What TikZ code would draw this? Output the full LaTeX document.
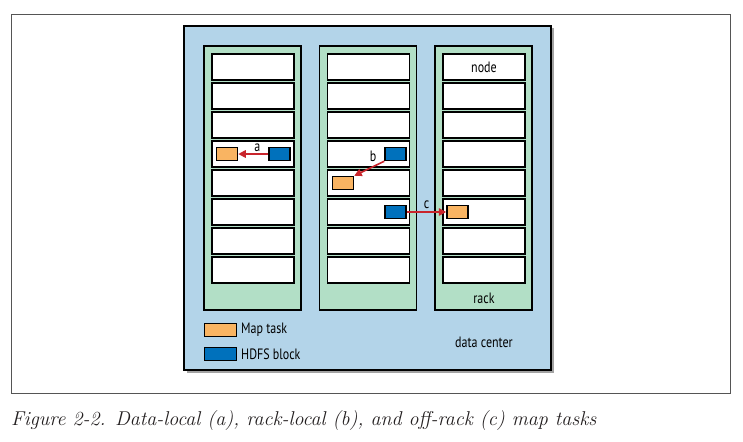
\documentclass[tikz,border=0pt]{standalone}
\usepackage{fontspec}
\newfontfamily\dfont[FakeStretch=0.8]{PT Sans}
\usetikzlibrary{arrows.meta,shadows}
\definecolor{dcblue}{HTML}{B3D4E9}
\definecolor{rackgreen}{HTML}{B2DFC6}
\definecolor{maporange}{HTML}{F9B462}
\definecolor{hdfsblue}{HTML}{0071BC}
\definecolor{arrowred}{HTML}{C9252C}
\definecolor{framegray}{HTML}{555555}
\definecolor{captext}{HTML}{231F20}
\tikzset{
  dcbox/.style={draw=black,line width=1.8pt,fill=dcblue,minimum width=367pt,minimum height=344pt,inner sep=0pt,
    drop shadow={shadow xshift=2.5pt,shadow yshift=-2.5pt,fill=black!60,opacity=0.6}},
  rackbox/.style={draw=black,line width=1.8pt,fill=rackgreen,minimum width=97pt,minimum height=264pt,inner sep=0pt},
  nodebox/.style={draw=black,line width=1.8pt,fill=white,minimum width=82pt,minimum height=26pt,inner sep=0pt},
  maptask/.style={draw=black,line width=1.5pt,fill=maporange,minimum width=21pt,minimum height=13pt,inner sep=0pt},
  hdfs/.style={draw=black,line width=1.5pt,fill=hdfsblue,minimum width=21pt,minimum height=13pt,inner sep=0pt},
  legmap/.style={maptask,minimum width=32pt},
  leghdfs/.style={hdfs,minimum width=32pt},
  lbl/.style={font=\dfont\fontsize{15pt}{18pt}\selectfont,inner sep=0pt},
  redarrow/.style={draw=arrowred,line width=1.6pt,-{Triangle[length=7.5pt,width=7.5pt]}}
}
\begin{document}
\begin{tikzpicture}[x=1pt,y=-1pt]
\useasboundingbox (0,0) rectangle (743,441);
\node[draw=framegray,line width=0.8pt,minimum width=719pt,minimum height=379pt,inner sep=0pt] (frame) at (370.5,203.5) {};
\node[dcbox] (dc) at (367.5,198) {};
\foreach \r/\cx in {1/252.5,2/368,3/483.5}{
  \node[rackbox] (rack\r) at (\cx,178) {};
  \foreach \i in {1,...,8}{
    \node[nodebox] (n\r-\i) at (\cx+0.5,{67+29*(\i-1)}) {};
  }
}
\node[lbl] (nodetxt) at (n3-1) {node};
\node[lbl] (racktxt) at (484,298) {rack};
\node[lbl] (dctxt) at (484,342) {data center};
% data-local
\node[maptask,xshift=-26pt] (ma) at (n1-4) {};
\node[hdfs,xshift=26.5pt] (ba) at (n1-4) {};
\draw[redarrow] (ba) -- (ma) node[lbl,midway,above=2pt,xshift=4pt] (la) {a};
% rack-local
\node[hdfs,xshift=27pt] (bb) at (n2-4) {};
\node[maptask,xshift=-25.5pt] (mb) at (n2-5) {};
\draw[redarrow] (bb.south west) -- (mb.north east);
\node[lbl] (lb) at (373,156) {b};
% off-rack
\node[hdfs,xshift=27pt] (bc) at (n2-6) {};
\node[maptask,xshift=-26.5pt] (mc) at (n3-6) {};
\draw[redarrow] (bc) -- (mc) node[lbl,midway,above=3pt] (lc) {c};
% legend
\node[legmap] (legm) at (220.5,330) {};
\node[leghdfs] (legh) at (220.5,354) {};
\node[lbl,anchor=west] (legmt) at (241,330) {Map task};
\node[lbl,anchor=west] (leght) at (241,354) {HDFS block};
% caption
\node[anchor=base west,inner sep=0pt,text=captext,font=\itshape\fontsize{20pt}{22pt}\selectfont] (cap) at (11,425) {Figure 2-2. Data-local (a), rack-local (b), and off-rack (c) map tasks};
\end{tikzpicture}
\end{document}
